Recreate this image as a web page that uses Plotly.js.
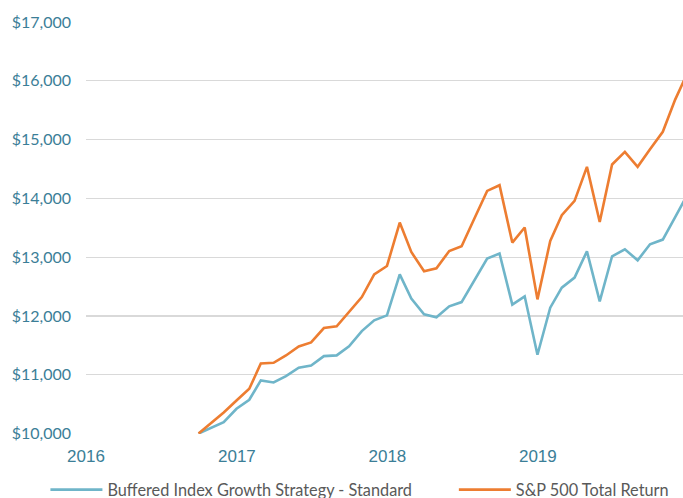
<!DOCTYPE html>
<html>
<head>
<meta charset="utf-8">
<script src="https://cdn.plot.ly/plotly-3.0.1.min.js"></script>
<style>html,body{margin:0;padding:0;background:#fff;}#chart{width:683px;height:498px;}</style>
</head>
<body>
<div id="chart"></div>
<script>
const dates = [
  '2016-09-30','2016-10-31','2016-11-30','2016-12-31',
  '2017-01-31','2017-02-28','2017-03-31','2017-04-30','2017-05-31','2017-06-30',
  '2017-07-31','2017-08-31','2017-09-30','2017-10-31','2017-11-30','2017-12-31',
  '2018-01-31','2018-02-28','2018-03-31','2018-04-30','2018-05-31','2018-06-30',
  '2018-07-31','2018-08-31','2018-09-30','2018-10-31','2018-11-30','2018-12-31',
  '2019-01-31','2019-02-28','2019-03-31','2019-04-30','2019-05-31','2019-06-30',
  '2019-07-31','2019-08-31','2019-09-30','2019-10-31','2019-11-30','2019-12-31'
];
const bufferedValues = [
  10000, 10092, 10192, 10421,
  10574, 10903, 10869, 10976, 11119, 11158, 11317, 11329, 11482, 11742, 11925, 12010,
  12708, 12294, 12027, 11976, 12163, 12236, 12606, 12976, 13061, 12192, 12334, 11340,
  12141, 12482, 12652, 13100, 12248, 13015, 13134, 12947, 13219, 13299, 13680, 14080
];
const sp500Values = [
  10000, 10180, 10358, 10562,
  10761, 11192, 11204, 11328, 11482, 11550, 11794, 11823, 12078, 12322, 12708, 12850,
  13589, 13088, 12759, 12810, 13105, 13185, 13657, 14127, 14224, 13248, 13504, 12282,
  13275, 13713, 13957, 14536, 13599, 14577, 14791, 14536, 14837, 15132, 15680, 16150
];
const seriesNames = ['Buffered Index Growth Strategy - Standard', 'S&P 500 Total Return'];
const xTickVals = ['2016-01-01', '2017-01-01', '2018-01-01', '2019-01-01'];
const xTickText = ['2016', '2017', '2018', '2019'];
const yTickVals = [10000, 11000, 12000, 13000, 14000, 15000, 16000, 17000];
const yTickText = ['$10,000', '$11,000', '$12,000', '$13,000', '$14,000', '$15,000', '$16,000', '$17,000'];

const traces = [
  {x: dates, y: bufferedValues, name: seriesNames[0], type: 'scatter', mode: 'lines',
   line: {color: '#6FB5C9', width: 2.6}, legend: 'legend'},
  {x: dates, y: sp500Values, name: seriesNames[1], type: 'scatter', mode: 'lines',
   line: {color: '#ED7D31', width: 2.6}, legend: 'legend2'}
];

const legendFont = {family: 'Lato, sans-serif', size: 16.3, color: '#595959'};
const baseLegend = {
  orientation: 'h', xanchor: 'left', yanchor: 'middle',
  xref: 'container', yref: 'container', y: 0.016,
  font: legendFont, itemwidth: 52,
  bgcolor: 'rgba(0,0,0,0)', borderwidth: 0
};

const layout = {
  width: 683, height: 498,
  margin: {l: 86, r: 0, t: 22, b: 64, pad: 0},
  paper_bgcolor: '#ffffff', plot_bgcolor: '#ffffff',
  showlegend: true,
  legend: Object.assign({}, baseLegend, {x: 0.0665}),
  legend2: Object.assign({}, baseLegend, {x: 0.6645}),
  xaxis: {
    type: 'date', range: ['2016-01-01', '2019-12-19'],
    tickvals: xTickVals, ticktext: xTickText,
    showgrid: false, zeroline: false, showline: false, ticks: '',
    ticklabelstandoff: 10,
    tickfont: {family: '"Liberation Sans", Arial, sans-serif', size: 17, color: '#3B7E97'}
  },
  yaxis: {
    range: [9992, 17000], tickvals: yTickVals, ticktext: yTickText,
    showgrid: true, gridcolor: '#D9D9D9', gridwidth: 1.3,
    zeroline: false, showline: false, ticks: '',
    ticklabelstandoff: 14,
    tickfont: {family: 'Lato, sans-serif', size: 16, color: '#3B7E97'}
  }
};

Plotly.newPlot('chart', traces, layout, {displayModeBar: false, staticPlot: true});
</script>
</body>
</html>
